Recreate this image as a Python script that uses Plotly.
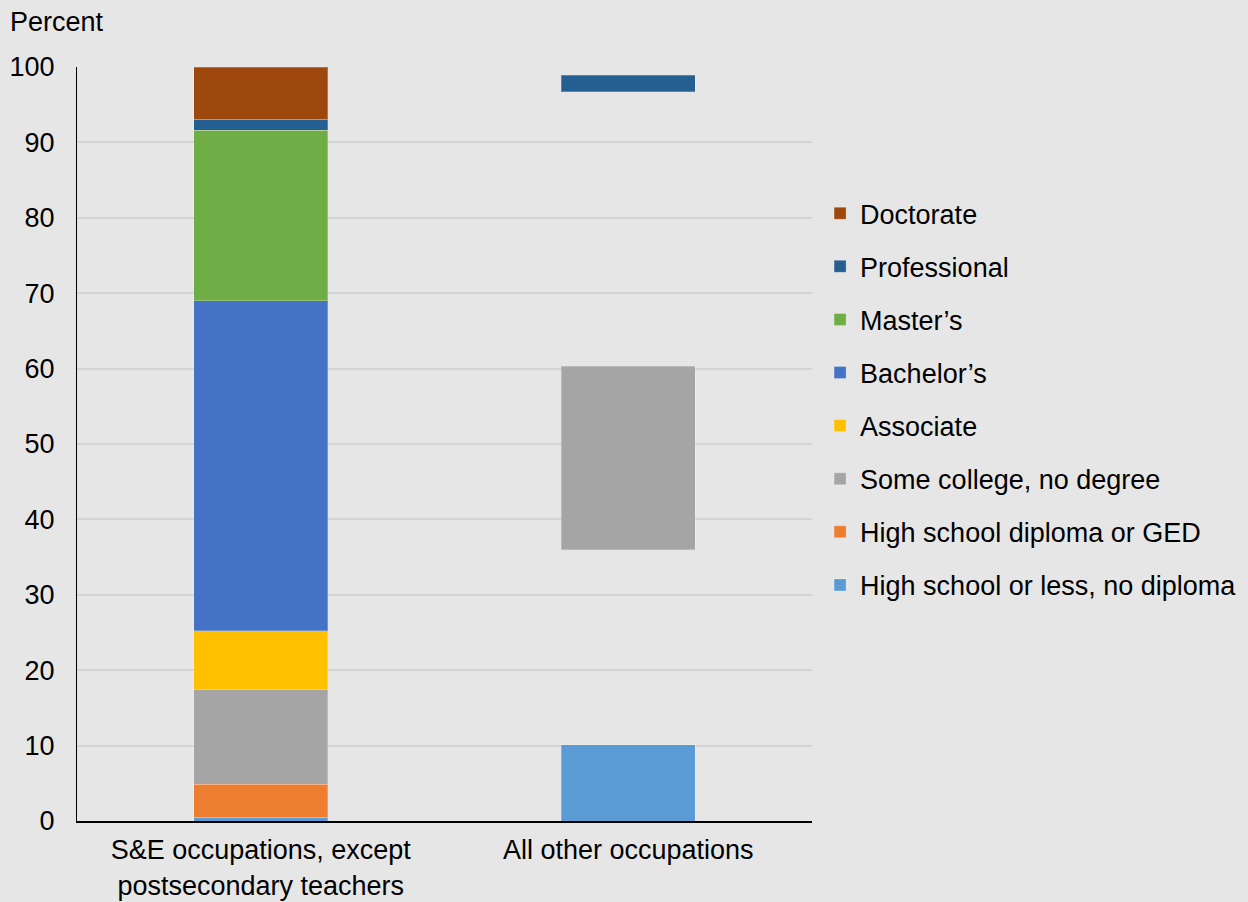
import plotly.graph_objects as go

# Occupation groups (x categories)
categories = [
    "S&E occupations, except<br>postsecondary teachers",
    "All other occupations",
]

# Highest degree attained, bottom of the stack first
levels = [
    "High school or less, no diploma",
    "High school diploma or GED",
    "Some college, no degree",
    "Associate",
    "Bachelor\u2019s",
    "Master\u2019s",
    "Professional",
    "Doctorate",
]

# Percent of workers in each group, per level (bottom to top)
se_occupations = [0.5, 4.4, 12.5, 7.8, 43.8, 22.6, 1.5, 6.9]
other_occupations = [10.1, 25.9, 24.3, 10.3, 19.0, 7.1, 2.2, 1.1]

# Segments of the second bar that are shown
other_shown = [True, False, True, False, False, False, True, False]

colors = [
    "#5B9BD5",
    "#ED7D31",
    "#A5A5A5",
    "#FFC000",
    "#4472C4",
    "#70AD47",
    "#255E91",
    "#9E480E",
]

BG = "#E6E6E6"
FONT = "Arial, Liberation Sans, sans-serif"
FS = 27

fig = go.Figure()
for i, name in enumerate(levels):
    fill = [colors[i], colors[i] if other_shown[i] else "rgba(0,0,0,0)"]
    edge = ["rgba(255,255,255,0.25)",
            "rgba(255,255,255,0.25)" if other_shown[i] else "rgba(0,0,0,0)"]
    fig.add_trace(go.Bar(
        x=categories,
        y=[se_occupations[i], other_occupations[i]],
        name=name,
        legendgroup=name,
        legendrank=len(levels) - i,
        marker=dict(color=fill, line=dict(color=edge, width=1)),
        hoverinfo="name+y",
    ))

fig.update_layout(
    barmode="stack",
    bargap=0.635,
    width=1248,
    height=902,
    paper_bgcolor=BG,
    plot_bgcolor=BG,
    margin=dict(l=77, r=436, t=67, b=81, autoexpand=False),
    font=dict(family=FONT, size=FS, color="#000000"),
    legend=dict(
        x=1.011,
        y=0.838,
        xanchor="left",
        yanchor="top",
        traceorder="grouped",
        tracegroupgap=15,
        bgcolor="rgba(0,0,0,0)",
        font=dict(family=FONT, size=FS, color="#000000"),
    ),
    xaxis=dict(
        showline=True,
        linecolor="#000000",
        linewidth=2,
        ticks="",
        showgrid=False,
        automargin=False,
        tickfont=dict(family=FONT, size=FS, color="#000000"),
        ticklabelstandoff=4,
    ),
    yaxis=dict(
        range=[0, 100],
        tickvals=[0, 10, 20, 30, 40, 50, 60, 70, 80, 90, 100],
        showline=True,
        linecolor="#000000",
        linewidth=1,
        showgrid=True,
        gridcolor="#D4D4D4",
        gridwidth=1.5,
        zeroline=False,
        ticks="",
        automargin=False,
        tickfont=dict(family=FONT, size=FS, color="#000000"),
        ticklabelstandoff=16,
    ),
    annotations=[
        dict(
            text="Percent",
            xref="paper", yref="paper",
            x=-0.094, y=1.0,
            xanchor="left", yanchor="bottom",
            yshift=28,
            showarrow=False,
            font=dict(family=FONT, size=FS, color="#000000"),
        )
    ],
)

fig.write_html("out.html")
